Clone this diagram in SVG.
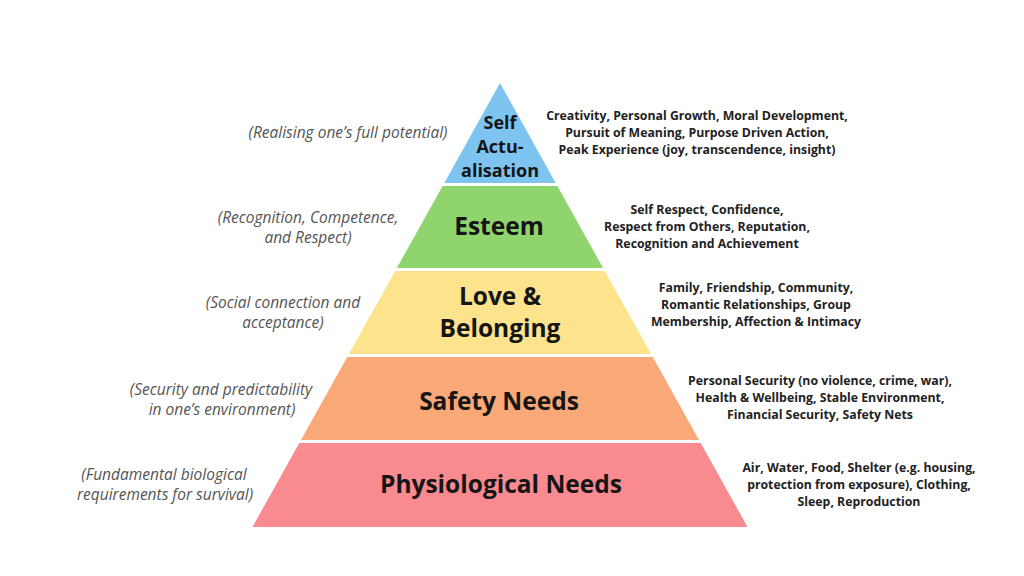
<svg xmlns="http://www.w3.org/2000/svg" width="1024" height="576" viewBox="0 0 1024 576">
<style>
.tier{font-family:"Open Sans","Liberation Sans",sans-serif;font-weight:700;fill:#151515;text-anchor:middle}
.desc{font-family:"Open Sans","Liberation Sans",sans-serif;font-weight:700;font-size:12.3px;fill:#222;text-anchor:middle}
.note{font-family:"Open Sans","Liberation Sans",sans-serif;font-style:italic;font-size:15.5px;fill:#555;text-anchor:middle}
</style>
<rect width="1024" height="576" fill="#ffffff"/>
<g id="self-actualisation">
<polygon points="500,83 555.7,183 444.3,183" fill="#7dc4f1"/>
<text class="tier" font-size="18" x="500" y="129">Self</text>
<text class="tier" font-size="18" x="500" y="153">Actu-</text>
<text class="tier" font-size="18" x="500" y="177">alisation</text>
<text class="note" x="348" y="138">(Realising one’s full potential)</text>
<text class="desc" x="697" y="120">Creativity, Personal Growth, Moral Development,</text>
<text class="desc" x="697" y="137">Pursuit of Meaning, Purpose Driven Action,</text>
<text class="desc" x="697" y="154">Peak Experience (joy, transcendence, insight)</text>
</g>
<g id="esteem">
<polygon points="442.6,186 557.4,186 603.1,268 396.9,268" fill="#8fd46c"/>
<text class="tier" font-size="24.5" x="499" y="235">Esteem</text>
<text class="note" x="308" y="223">(Recognition, Competence,</text>
<text class="note" x="308" y="243">and Respect)</text>
<text class="desc" x="707" y="214">Self Respect, Confidence,</text>
<text class="desc" x="707" y="231">Respect from Others, Reputation,</text>
<text class="desc" x="707" y="248">Recognition and Achievement</text>
</g>
<g id="love-belonging">
<polygon points="395.2,271 604.8,271 651.1,354 348.9,354" fill="#fce38c"/>
<text class="tier" font-size="24.5" x="500" y="305">Love &amp;</text>
<text class="tier" font-size="24.5" x="500" y="337">Belonging</text>
<text class="note" x="283" y="308">(Social connection and</text>
<text class="note" x="283" y="328">acceptance)</text>
<text class="desc" x="756" y="292">Family, Friendship, Community,</text>
<text class="desc" x="756" y="309">Romantic Relationships, Group</text>
<text class="desc" x="756" y="326">Membership, Affection &amp; Intimacy</text>
</g>
<g id="safety-needs">
<polygon points="347.2,357 652.8,357 699,440 301,440" fill="#f9a978"/>
<text class="tier" font-size="24.5" x="499" y="410">Safety Needs</text>
<text class="note" x="221" y="395">(Security and predictability</text>
<text class="note" x="222" y="415">in one’s environment)</text>
<text class="desc" x="820" y="385">Personal Security (no violence, crime, war),</text>
<text class="desc" x="820" y="402">Health &amp; Wellbeing, Stable Environment,</text>
<text class="desc" x="820" y="419">Financial Security, Safety Nets</text>
</g>
<g id="physiological-needs">
<polygon points="299.3,443 700.7,443 747.5,527 252.5,527" fill="#f98a8f"/>
<text class="tier" font-size="24.5" x="501" y="493">Physiological Needs</text>
<text class="note" x="164" y="480">(Fundamental biological</text>
<text class="note" x="165" y="500">requirements for survival)</text>
<text class="desc" x="859" y="472">Air, Water, Food, Shelter (e.g. housing,</text>
<text class="desc" x="859" y="489">protection from exposure), Clothing,</text>
<text class="desc" x="859" y="506">Sleep, Reproduction</text>
</g>
<g id="connectors"/>
</svg>
